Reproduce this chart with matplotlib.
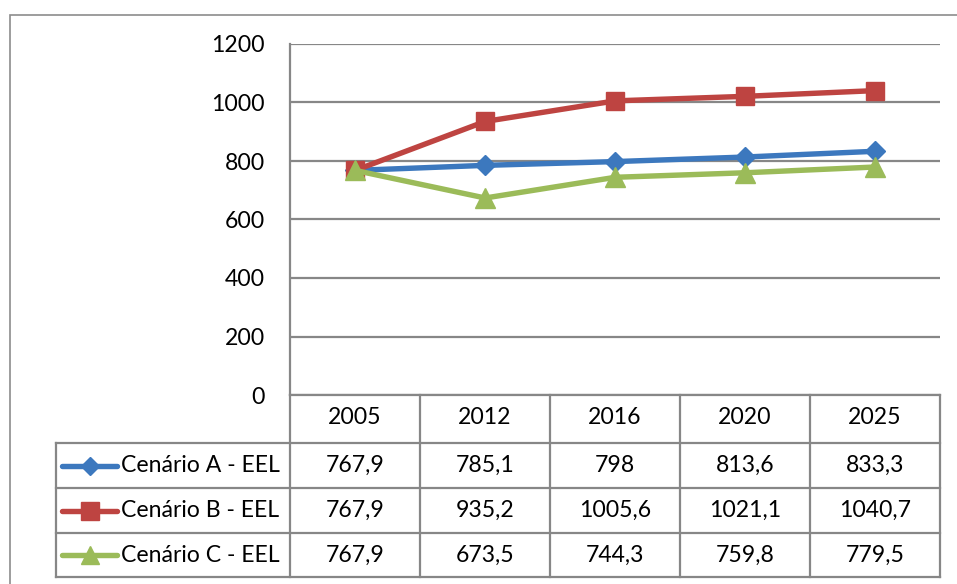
import matplotlib
matplotlib.use("Agg")
import matplotlib.pyplot as plt
from matplotlib.lines import Line2D
from matplotlib.patches import Rectangle

years = ["2005", "2012", "2016", "2020", "2025"]
series_names = ["Cenário A - EEL", "Cenário B - EEL", "Cenário C - EEL"]
cenario_a = [767.9, 785.1, 798, 813.6, 833.3]
cenario_b = [767.9, 935.2, 1005.6, 1021.1, 1040.7]
cenario_c = [767.9, 673.5, 744.3, 759.8, 779.5]
y_ticks = [0, 200, 400, 600, 800, 1000, 1200]

colors = ["#3C78BE", "#BE4441", "#9BBB59"]
markers = ["D", "s", "^"]
msizes = [10, 13, 14]
series = [cenario_a, cenario_b, cenario_c]

W, H = 957, 584
FS = 16.6
plt.rcParams['font.family'] = ['Lato', 'DejaVu Sans']
fig = plt.figure(figsize=(W / 100, H / 100), dpi=100)

def fx(px):
    return px / W

def fy(py):
    return 1 - py / H

GRID = "#878787"
# plot area pixels
L, R, T, B = 290, 940.5, 44, 395
ax = fig.add_axes([fx(L), fy(B), fx(R) - fx(L), fy(T) - fy(B)])
ax.set_xlim(-0.5, len(years) - 0.5)
ax.set_ylim(0, 1200)
ax.set_yticks(y_ticks)
ax.set_yticklabels([str(t) for t in y_ticks], fontsize=FS)
ax.tick_params(axis='y', length=0, pad=18)
ax.set_xticks([])
for s in ["top", "right", "bottom"]:
    ax.spines[s].set_visible(False)
ax.spines["left"].set_color(GRID)
ax.spines["left"].set_linewidth(1.6)
ax.yaxis.grid(True, color=GRID, linewidth=1.6)
ax.set_axisbelow(True)

xs = list(range(len(years)))
for vals, c, m, ms in zip(series, colors, markers, msizes):
    ax.plot(xs, vals, color=c, linewidth=3.9, marker=m, markersize=ms,
            markerfacecolor=c, markeredgecolor=c, solid_capstyle='round', zorder=3)

# Outer chart border
fig.add_artist(Rectangle((fx(9.5), fy(700)), fx(1200), fy(14.7) - fy(700),
                         transform=fig.transFigure, fill=False,
                         edgecolor="#8C8C8C", linewidth=1.2))

# Data table
row_y = [395, 443, 488, 533, 577]
col_x = [290 + 130 * i for i in range(len(years) + 1)]
leg_left = 55.5

def hline(y, x0, x1):
    fig.add_artist(Line2D([fx(x0), fx(x1)], [fy(y), fy(y)], color=GRID,
                          linewidth=1.6, transform=fig.transFigure))

def vline(x, y0, y1):
    fig.add_artist(Line2D([fx(x), fx(x)], [fy(y0), fy(y1)], color=GRID,
                          linewidth=1.6, transform=fig.transFigure))

hline(row_y[0], col_x[0], col_x[-1])
for y in row_y[1:]:
    hline(y, leg_left, col_x[-1])
for x in col_x:
    vline(x, row_y[0], row_y[-1])
vline(leg_left, row_y[1], row_y[-1])

def fmt(v):
    return ("%g" % v).replace(".", ",")

for i, yr in enumerate(years):
    cx = (col_x[i] + col_x[i + 1]) / 2
    fig.text(fx(cx), fy((row_y[0] + row_y[1]) / 2 - 1), yr, ha="center",
             va="center", fontsize=FS)

for r, (name, vals, c, m, ms) in enumerate(zip(series_names, series, colors, markers, msizes)):
    cy = (row_y[r + 1] + row_y[r + 2]) / 2
    for i, v in enumerate(vals):
        cx = (col_x[i] + col_x[i + 1]) / 2
        fig.text(fx(cx), fy(cy), fmt(v), ha="center", va="center", fontsize=FS)
    fig.add_artist(Line2D([fx(62), fx(117)], [fy(cy), fy(cy)], color=c,
                          linewidth=3.9, solid_capstyle='round',
                          transform=fig.transFigure))
    fig.add_artist(Line2D([fx(89.5)], [fy(cy)], color=c, marker=m,
                          markersize=ms * 0.95, markerfacecolor=c,
                          markeredgecolor=c, linestyle="none",
                          transform=fig.transFigure))
    fig.text(fx(121), fy(cy), name, ha="left", va="center", fontsize=FS)

fig.savefig("out.png", dpi=100)
